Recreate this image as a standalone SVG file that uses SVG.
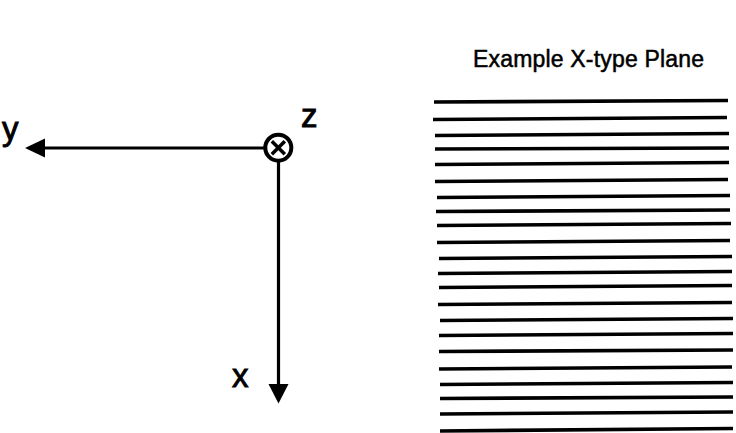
<svg xmlns="http://www.w3.org/2000/svg" width="736" height="433" viewBox="0 0 736 433">
<style>
.lbl{font-family:"Liberation Sans",Arial,sans-serif;fill:#000}
.big{font-size:33px;stroke:#000;stroke-width:0.9}
.ax{stroke:#000;stroke-width:3.2;fill:none}
.pl line{stroke:#000;stroke-width:3.6}
</style>
<rect width="736" height="433" fill="#fff"/>
<g id="connectors">
<line class="ax" x1="264" y1="148" x2="44" y2="148"/>
<polygon points="25,148 45,138.5 45,157.5" fill="#000"/>
<line class="ax" x1="278.5" y1="161" x2="278.5" y2="386"/>
<polygon points="278.5,403.5 268.5,384 288.5,384" fill="#000"/>
</g>
<g id="origin">
<circle cx="278.3" cy="147.7" r="13" fill="#fff" stroke="#000" stroke-width="4"/>
<line x1="271.8" y1="141.2" x2="284.8" y2="154.2" stroke="#000" stroke-width="3.5"/>
<line x1="284.8" y1="141.2" x2="271.8" y2="154.2" stroke="#000" stroke-width="3.5"/>
</g>
<g id="label-y"><text class="lbl big" x="2" y="140">y</text></g>
<g id="label-z"><text class="lbl big" x="301" y="127">z</text></g>
<g id="label-x"><text class="lbl big" x="232" y="386.5">x</text></g>
<g id="title"><text class="lbl" x="473" y="66.5" font-size="23" stroke="#000" stroke-width="0.5" textLength="231">Example X-type Plane</text></g>
<g id="plane" class="pl">
<line x1="434" y1="102" x2="728" y2="100.5"/>
<line x1="433" y1="119.5" x2="727" y2="117.5"/>
<line x1="435" y1="135.5" x2="729" y2="133.5"/>
<line x1="435" y1="149" x2="729" y2="148"/>
<line x1="435" y1="164.5" x2="729" y2="162.5"/>
<line x1="435" y1="181.5" x2="728" y2="179.5"/>
<line x1="437" y1="197.5" x2="730" y2="195.5"/>
<line x1="436" y1="211.5" x2="730" y2="210"/>
<line x1="437" y1="225.5" x2="731" y2="223.5"/>
<line x1="437" y1="242.5" x2="730" y2="240.5"/>
<line x1="439" y1="258.5" x2="732" y2="256.5"/>
<line x1="438" y1="273.5" x2="732" y2="271.5"/>
<line x1="439" y1="287.5" x2="732" y2="285.5"/>
<line x1="438" y1="304.5" x2="732" y2="302.5"/>
<line x1="440" y1="320.5" x2="733" y2="318.5"/>
<line x1="439" y1="335.5" x2="733" y2="333.5"/>
<line x1="439" y1="351.5" x2="733" y2="350"/>
<line x1="439" y1="369" x2="732" y2="367"/>
<line x1="440" y1="384.5" x2="733" y2="382.5"/>
<line x1="440" y1="398.5" x2="733" y2="397"/>
<line x1="440" y1="414" x2="733" y2="412"/>
<line x1="440" y1="431" x2="733" y2="428.5"/>
</g>
</svg>
